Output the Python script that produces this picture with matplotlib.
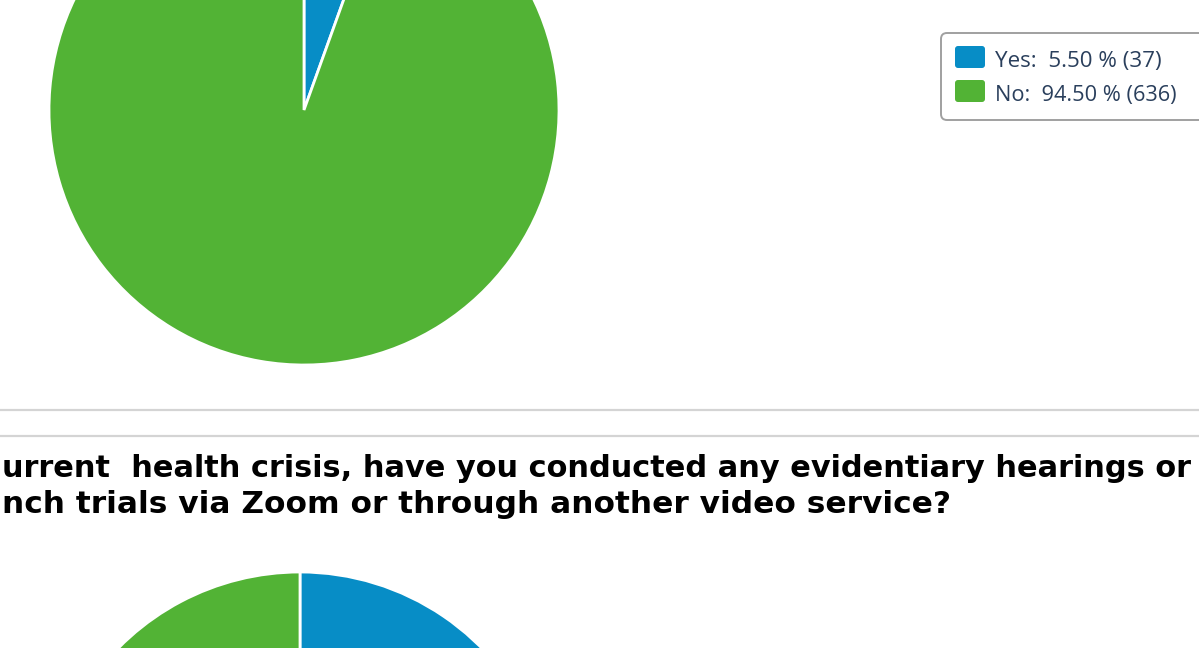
import matplotlib
matplotlib.use("Agg")
import matplotlib.pyplot as plt
from matplotlib.patches import FancyBboxPatch

# ---- data ----
q1_labels = ["Yes", "No"]
q1_pct = [5.50, 94.50]
q1_counts = [37, 636]
q2_labels = ["Yes", "No"]
q2_pct = [38.0, 62.0]          # only the top of this pie is visible
title_lines = ["urrent  health crisis, have you conducted any evidentiary hearings or",
               "nch trials via Zoom or through another video service?"]
colors = ["#078dc6", "#52b335"]

W, H = 1199, 648
fig = plt.figure(figsize=(W / 100, H / 100), dpi=100)
ax = fig.add_axes([0, 0, 1, 1])

def Y(py):
    return H - py

ax.pie(q1_pct, colors=colors, startangle=90, counterclock=False,
       center=(304, Y(110)), radius=255,
       wedgeprops=dict(edgecolor="white", linewidth=2))
ax.pie(q2_pct, colors=colors, startangle=90, counterclock=False,
       center=(300, Y(827)), radius=255,
       wedgeprops=dict(edgecolor="white", linewidth=2))

ax.set_xlim(0, W)
ax.set_ylim(0, H)
ax.set_aspect("auto")
ax.axis("off")

# separator lines
for py in (410, 436):
    ax.plot([0, W], [Y(py), Y(py)], color="#d4d4d4", linewidth=1.6, solid_capstyle="butt")

# legend box
box = FancyBboxPatch((941, Y(120)), 300, 87, boxstyle="round,pad=0,rounding_size=6",
                     facecolor="white", edgecolor="#a0a0a0", linewidth=1.4)
ax.add_patch(box)
renderer = fig.canvas.get_renderer()
legend_ends = [1162, 1176]
for i, (lab, p, c) in enumerate(zip(q1_labels, q1_pct, q1_counts)):
    top = 46 + i * 34
    sw = FancyBboxPatch((955, Y(top + 22)), 30, 22, boxstyle="round,pad=0,rounding_size=3",
                        facecolor=colors[i], edgecolor="none")
    ax.add_patch(sw)
    t = ax.text(995, Y(top + 15), f"{lab}:  {p:.2f} % ({c})", fontsize=15,
                family="Open Sans", color="#2a3f5c", va="center", ha="left")
    w = t.get_window_extent(renderer).width
    t.set_fontsize(15 * (legend_ends[i] - 995) / w)

# title lines, fitted to the visible widths
targets = [(title_lines[0], 2, 477, 1196), (title_lines[1], 2, 513, 950)]
for txt, x0, base, x1 in targets:
    t = ax.text(x0, Y(base), txt, fontsize=20, fontweight="bold", family="DejaVu Sans",
                color="black", ha="left", va="baseline")
    w = t.get_window_extent(renderer).width
    t.set_fontsize(20 * (x1 - x0) / w)

fig.savefig("out.png", dpi=100)
